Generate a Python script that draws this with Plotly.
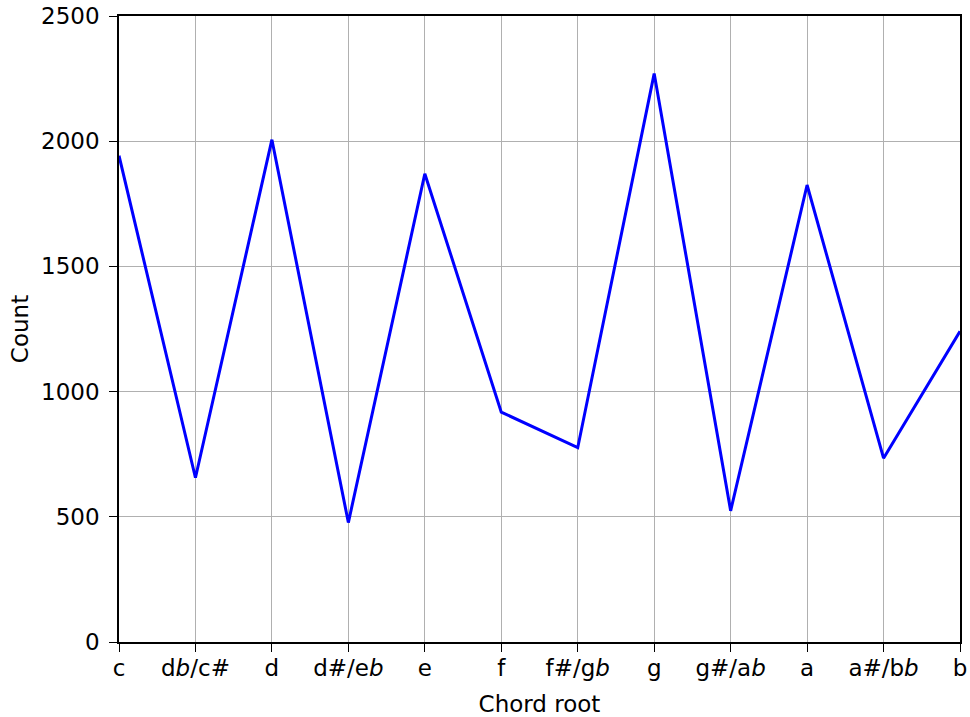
import plotly.graph_objects as go

categories = ["c", "db/c#", "d", "d#/eb", "e", "f", "f#/gb", "g", "g#/ab", "a", "a#/bb", "b"]
tick_labels = ["c", "d<i>b</i>/c#", "d", "d#/e<i>b</i>", "e", "f", "f#/g<i>b</i>", "g",
               "g#/a<i>b</i>", "a", "a#/b<i>b</i>", "b"]
counts = [1942, 656, 2006, 477, 1870, 918, 776, 2270, 524, 1825, 734, 1241]
y_ticks = [0, 500, 1000, 1500, 2000, 2500]

fig = go.Figure()
fig.add_trace(go.Scatter(x=categories, y=counts, mode="lines",
                         line=dict(color="#0000ff", width=3), showlegend=False))

font = dict(family="DejaVu Sans", size=23, color="black")
fig.update_layout(
    width=970, height=717,
    margin=dict(l=119, r=10, t=16, b=75),
    paper_bgcolor="white", plot_bgcolor="white",
    font=font,
)
fig.update_xaxes(
    type="category", range=[0, 11], automargin=False,
    tickvals=categories, ticktext=tick_labels,
    showline=True, linecolor="black", linewidth=1.6, mirror=True,
    ticks="outside", ticklen=8, tickwidth=1.4, tickcolor="black",
    showgrid=True, gridcolor="#b0b0b0", gridwidth=1.4,
    ticklabelstandoff=-3,
    title=dict(text="Chord root", font=font, standoff=15),
    tickfont=font,
)
fig.update_yaxes(
    range=[0, 2500], tickvals=y_ticks, automargin=False,
    showline=True, linecolor="black", linewidth=1.6, mirror=True,
    ticks="outside", ticklen=8, tickwidth=1.4, tickcolor="black",
    showgrid=True, gridcolor="#b0b0b0", gridwidth=1.4, zeroline=False,
    ticklabelstandoff=5,
    title=dict(text="Count", font=font, standoff=6),
    tickfont=font,
)
fig.write_html("out.html", config={"displayModeBar": False},
               post_script="document.body.style.margin='0';document.body.style.overflow='hidden';")
